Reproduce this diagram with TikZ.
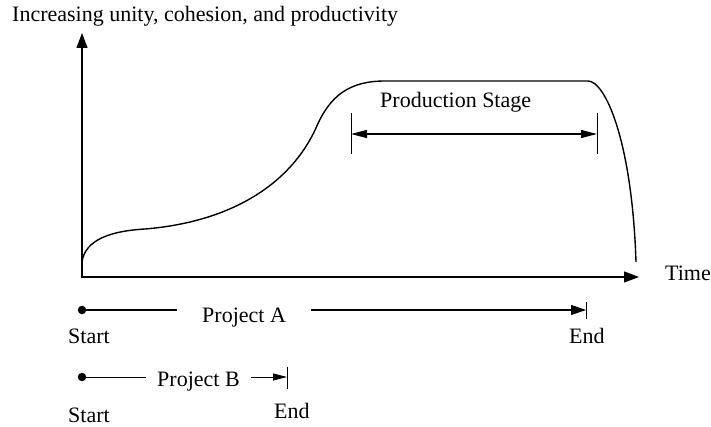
\documentclass[tikz,border=0pt]{standalone}
\usepackage{fontspec}
\setmainfont{Liberation Serif}
\usetikzlibrary{arrows.meta}
\usetikzlibrary{positioning}

\begin{document}
\begin{tikzpicture}[x=1pt,y=-1pt,
    font=\fontsize{22}{26}\selectfont,
    axis/.style={line width=1.3pt,{Triangle[length=15pt,width=11pt]}-{Triangle[length=15pt,width=11pt]}},
    span/.style={line width=1.1pt},
    tick/.style={line width=0.9pt},
    dot/.style={circle,fill,inner sep=0pt,minimum size=8.5pt},
    lbl/.style={inner sep=0pt,anchor=base west}]
    \useasboundingbox (0,0) rectangle (711,427);
    % axes
    \coordinate (ytop) at (82,33);
    \coordinate (O) at (82,277);
    \coordinate (xend) at (639,277);
    \draw[axis] (ytop) -- (O) -- (xend);
    \node[lbl] (ylabel) at (12,22) {Increasing unity, cohesion, and productivity};
    \node[lbl] (time) at (665,280) {Time};
    % group curve
    \draw[line width=1.4pt] (82,262) .. controls (85,240) and (110,231) .. (145,229)
        .. controls (230,222) and (290,185) .. (316,128)
        .. controls (330,95) and (350,81) .. (385,81) -- (588,81)
        .. controls (605,81) and (632,140) .. (636,262);
    % production stage
    \coordinate (psL) at (351,134);
    \coordinate (psR) at (597,134);
    \draw[tick] (psL) ++(0,-21) -- ++(0,41);
    \draw[tick] (psR) ++(0,-21) -- ++(0,41);
    \draw[span,{Triangle[length=16pt,width=8pt]}-{Triangle[length=16pt,width=8pt]}] (psL) -- (psR);
    \node[lbl] (prod) at (380,108) {Production Stage};
    % project A
    \node[dot] (dotA) at (82,310) {};
    \coordinate (endA) at (586,310);
    \node[lbl,inner xsep=25pt] (projA) at (177,322) {Project A};
    \draw[span] (dotA) -- (projA.west |- dotA);
    \draw[span,-{Triangle[length=15pt,width=10pt]}] (projA.east |- dotA) -- (endA);
    \draw[tick] (endA) ++(0,-8) -- ++(0,17);
    \node[lbl] (startA) at (68,343) {Start};
    \node[lbl] (endAtxt) at (569,343) {End};
    % project B
    \node[dot] (dotB) at (82,377) {};
    \coordinate (endB) at (287,377);
    \node[lbl,inner xsep=11pt] (projB) at (146,386) {Project B};
    \draw[line width=0.8pt] (dotB) -- (projB.west |- dotB);
    \draw[line width=0.8pt,-{Triangle[length=14pt,width=7pt]}] (projB.east |- dotB) -- (endB);
    \draw[tick] (endB) ++(0,-10) -- ++(0,22);
    \node[lbl] (startB) at (68,422) {Start};
    \node[lbl] (endBtxt) at (274,418) {End};
\end{tikzpicture}
\end{document}
